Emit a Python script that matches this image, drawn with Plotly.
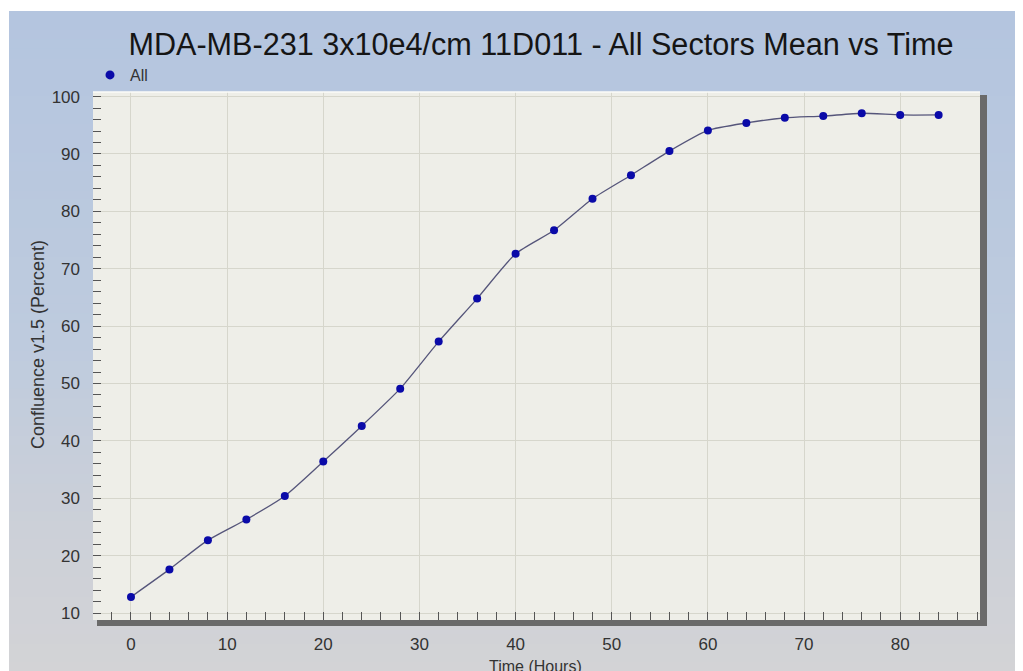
import plotly.graph_objects as go

# ---- data ----
hours = [0, 4, 8, 12, 16, 20, 24, 28, 32, 36, 40, 44, 48, 52, 56, 60, 64, 68, 72, 76, 80, 84]
confluence = [12.8, 17.6, 22.7, 26.3, 30.4, 36.4, 42.6, 49.1, 57.3, 64.8, 72.6, 76.7, 82.2, 86.3, 90.5,
              94.1, 95.4, 96.3, 96.6, 97.1, 96.8, 96.8]
series_name = "All"
y_ticks = [10, 20, 30, 40, 50, 60, 70, 80, 90, 100]
x_ticks = [0, 10, 20, 30, 40, 50, 60, 70, 80]

OFF = 8  # page body margin
W, H = 1023 - OFF, 671 - OFF
L, R, T, B = 93 - OFF, 980 - OFF, 92 - OFF, 620 - OFF  # plot area in figure pixels
PW, PH = R - L, B - T


def px_x(p):  # reference page pixel -> paper x
    return (p - OFF - L) / PW


def px_y(p):  # reference page pixel -> paper y
    return (B - (p - OFF)) / PH


def lerp(c1, c2, t):
    return tuple(round(a + (b - a) * t) for a, b in zip(c1, c2))


stops = [(0.0, (180, 197, 223)), (0.5, (190, 203, 222)), (0.78, (204, 208, 216)), (1.0, (211, 211, 214))]


def grad(t):
    for (t0, c0), (t1, c1) in zip(stops[:-1], stops[1:]):
        if t <= t1:
            return lerp(c0, c1, (t - t0) / (t1 - t0))
    return stops[-1][1]


shapes = []
top_px, bot_px = 11, 672
n = 70
for i in range(n):
    p0 = top_px + (bot_px - top_px) * i / n
    p1 = top_px + (bot_px - top_px) * (i + 1) / n + 0.8
    c = grad((i + 0.5) / n)
    shapes.append(dict(type="rect", xref="paper", yref="paper", layer="below",
                       x0=px_x(9), x1=px_x(1024), y0=px_y(p1), y1=px_y(p0),
                       fillcolor="rgb(%d,%d,%d)" % c, line=dict(width=0)))
# plot area
shapes.append(dict(type="rect", xref="paper", yref="paper", layer="below",
                   x0=0, x1=1, y0=0, y1=1, fillcolor="#eeeee8", line=dict(width=0)))
# top light edge
shapes.append(dict(type="line", xref="paper", yref="paper", layer="above",
                   x0=0, x1=1, y0=1, y1=1, line=dict(color="#fbfbf8", width=1.5)))
# dark 3D borders
shapes.append(dict(type="rect", xref="paper", yref="paper", layer="above",
                   x0=1, x1=px_x(987), y0=px_y(626), y1=px_y(95),
                   fillcolor="#6a6a6a", line=dict(width=0)))
shapes.append(dict(type="rect", xref="paper", yref="paper", layer="above",
                   x0=px_x(97), x1=px_x(987), y0=px_y(626), y1=0,
                   fillcolor="#6a6a6a", line=dict(width=0)))

fig = go.Figure()
fig.add_trace(go.Scatter(
    x=hours, y=confluence, mode="lines+markers", showlegend=False,
    line=dict(color="#55557a", width=1.3, shape="spline", smoothing=0.6),
    marker=dict(color="#0a0aa8", size=8, symbol="circle"),
))
fig.add_trace(go.Scatter(
    x=[None], y=[None], mode="markers", name=series_name,
    marker=dict(color="#0a0aa8", size=9, symbol="circle"),
))

font_family = "Arial, Liberation Sans, sans-serif"

fig.update_layout(
    width=W, height=H,
    margin=dict(l=L, r=W - R, t=T, b=H - B, pad=0),
    paper_bgcolor="white",
    plot_bgcolor="#eeeee8",
    font=dict(family=font_family, color="#333333"),
    title=dict(text="MDA-MB-231 3x10e4/cm 11D011 - All Sectors Mean vs Time",
               font=dict(size=30.6, color="#151515", family=font_family),
               x=px_x(541), xref="paper", xanchor="center",
               y=1 - (44 - OFF) / H, yref="container", yanchor="middle"),
    showlegend=True,
    legend=dict(x=px_x(90), y=px_y(75), xanchor="left", yanchor="middle",
                bgcolor="rgba(0,0,0,0)", font=dict(size=16, color="#333333"),
                itemwidth=30, tracegroupgap=0),
    shapes=shapes,
    annotations=[
        dict(text="Confluence v1.5 (Percent)", xref="paper", yref="paper",
             x=px_x(38), y=px_y(345), textangle=-90, showarrow=False,
             xanchor="center", yanchor="middle",
             font=dict(size=18, color="#333333")),
        dict(text="Time (Hours)", xref="paper", yref="paper",
             x=px_x(535), y=px_y(666), showarrow=False,
             xanchor="center", yanchor="middle",
             font=dict(size=16, color="#333333")),
    ],
)

fig.update_xaxes(
    range=[-3.95, 88.3], tickvals=x_ticks, showgrid=True, gridcolor="#d6d6cc", gridwidth=1,
    zeroline=False, showline=False, ticks="inside", ticklen=8, tickcolor="#555555",
    tickfont=dict(size=17, color="#333333"), ticklabelstandoff=12, automargin=False,
    minor=dict(dtick=2, tick0=0, ticks="inside", ticklen=8, tickcolor="#555555", showgrid=False),
)
fig.update_yaxes(
    range=[8.78, 100.8], tickvals=y_ticks, showgrid=True, gridcolor="#d6d6cc", gridwidth=1,
    zeroline=False, showline=False, ticks="inside", ticklen=8, tickcolor="#555555",
    tickfont=dict(size=17, color="#333333"), ticklabelstandoff=12, automargin=False,
    minor=dict(dtick=2, tick0=0, ticks="inside", ticklen=8, tickcolor="#555555", showgrid=False),
)

fig.write_html("out.html")
